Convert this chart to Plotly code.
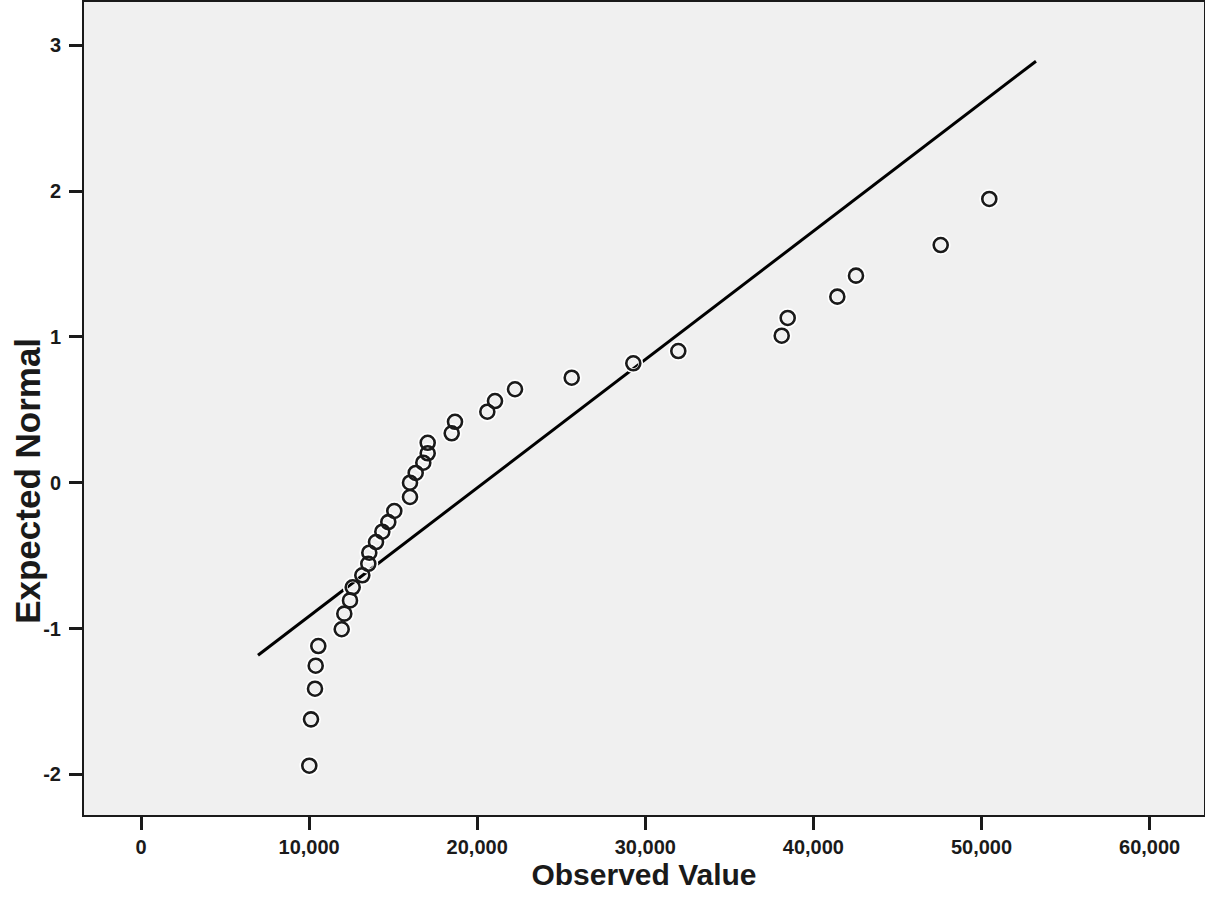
import plotly.graph_objects as go

# Observed values (x) and their expected normal scores (y)
observed = [10012, 10113, 10351, 10393, 10547, 11939, 12094, 12433, 12594, 13165,
            13522, 13581, 13980, 14355, 14711, 15068, 16002, 16002, 16341, 16793,
            17055, 17055, 18483, 18679, 20601, 21059, 22249, 25622, 29286, 31963,
            38114, 38471, 41422, 42534, 47573, 50464]
expected = [-1.941, -1.623, -1.413, -1.255, -1.120, -1.005, -0.898, -0.807, -0.717, -0.635,
            -0.556, -0.480, -0.407, -0.336, -0.270, -0.194, -0.098, 0.000, 0.067, 0.137,
            0.202, 0.274, 0.339, 0.418, 0.487, 0.560, 0.641, 0.720, 0.819, 0.903,
            1.008, 1.130, 1.276, 1.420, 1.630, 1.946]

# Reference normal line parameters
line_mean = 20400
line_sd = 11360
line_x = [6960, 53240]
line_y = [(v - line_mean) / line_sd for v in line_x]

x_ticks = [0, 10000, 20000, 30000, 40000, 50000, 60000]
x_tick_labels = ["0", "10,000", "20,000", "30,000", "40,000", "50,000", "60,000"]
y_ticks = [-2, -1, 0, 1, 2, 3]
y_tick_labels = ["-2", "-1", "0", "1", "2", "3"]
x_title = "Observed Value"
y_title = "Expected Normal"

fig = go.Figure()
fig.add_trace(go.Scatter(
    x=line_x, y=line_y, mode="lines",
    line=dict(color="black", width=3), hoverinfo="skip", showlegend=False))
# white halo beneath markers
fig.add_trace(go.Scatter(
    x=observed, y=expected, mode="markers",
    marker=dict(symbol="circle-open", size=15, color="white", line=dict(width=5, color="white")),
    hoverinfo="skip", showlegend=False))
fig.add_trace(go.Scatter(
    x=observed, y=expected, mode="markers",
    marker=dict(symbol="circle-open", size=14, color="#1a1a1a", line=dict(width=2.6, color="#1a1a1a")),
    showlegend=False))

font_family = "Liberation Sans, Arial, sans-serif"
fig.update_layout(
    width=1205, height=907,
    margin=dict(l=84, r=1, t=2, b=92, autoexpand=False),
    paper_bgcolor="white",
    plot_bgcolor="#f0f0f0",
    font=dict(family=font_family, color="#1a1a1a"),
)
fig.update_xaxes(
    range=[-3391, 63236], automargin=False,
    tickvals=x_ticks, ticktext=x_tick_labels,
    ticks="outside", ticklen=13, tickwidth=3, tickcolor="#1a1a1a",
    tickfont=dict(size=20, family=font_family, weight="bold"),
    showgrid=False, zeroline=False,
    showline=True, linecolor="#1a1a1a", linewidth=2, mirror=True,
    title=dict(text=x_title, font=dict(size=30, family=font_family, weight="bold"), standoff=2),
)
fig.update_yaxes(
    range=[-2.279, 3.297], automargin=False,
    tickvals=y_ticks, ticktext=y_tick_labels,
    ticks="outside", ticklen=13, tickwidth=3, tickcolor="#1a1a1a",
    tickfont=dict(size=20, family=font_family, weight="bold"),
    ticklabelstandoff=4,
    showgrid=False, zeroline=False,
    showline=True, linecolor="#1a1a1a", linewidth=2, mirror=True,
)
# y-axis title placed as in the reference (centred near y = 0)
fig.add_annotation(
    text=y_title, textangle=-90, showarrow=False,
    xref="paper", yref="paper", x=-0.05, y=0.411,
    xanchor="center", yanchor="middle",
    font=dict(size=35, family=font_family, weight="bold", color="#1a1a1a"),
)

fig.write_html(
    "out.html",
    config={"displayModeBar": False},
    post_script="document.body.style.margin='0';document.body.style.overflow='hidden';",
)
